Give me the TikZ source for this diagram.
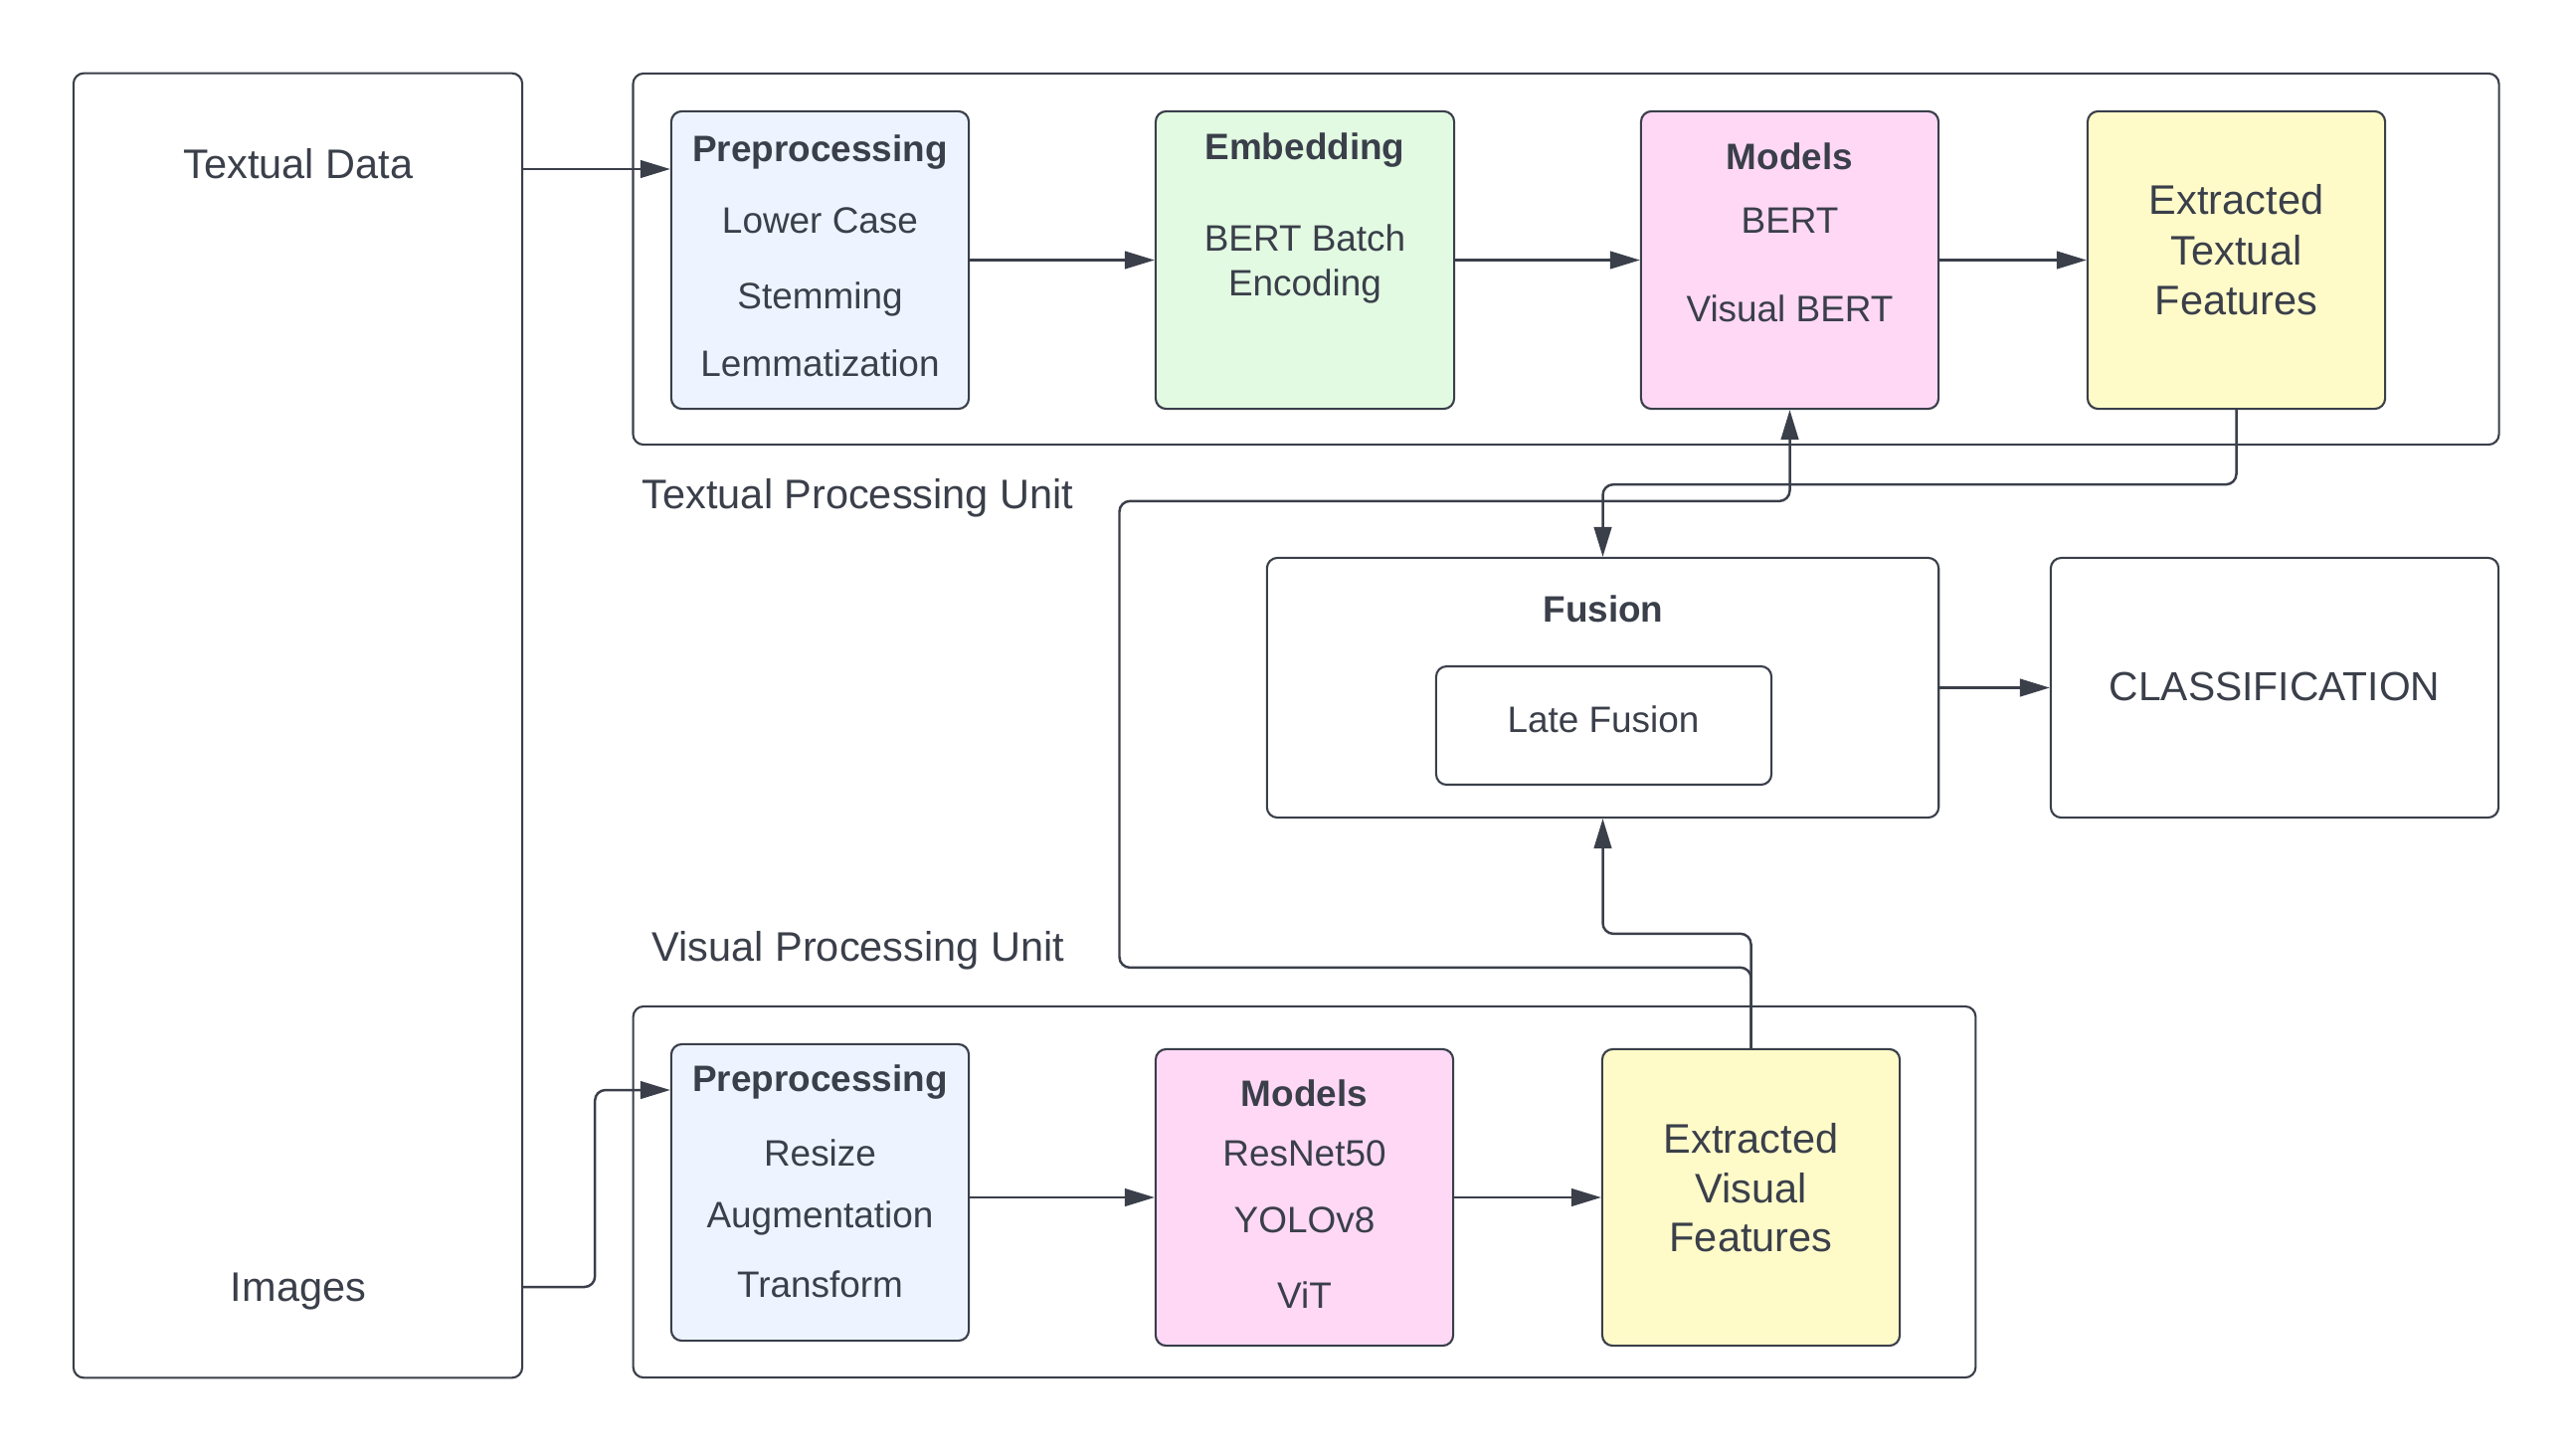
\documentclass[tikz,border=0pt]{standalone}
\usepackage{fontspec}
\setmainfont{Liberation Sans}
\usetikzlibrary{arrows.meta,calc}
\definecolor{ink}{HTML}{3A3F4A}
\definecolor{prepfill}{HTML}{EDF4FF}
\definecolor{embfill}{HTML}{E2FAE2}
\definecolor{modfill}{HTML}{FFD8F6}
\definecolor{featfill}{HTML}{FFFBC9}
\tikzset{box/.style = {draw=ink, line width=0.6pt, rounded corners=3pt, inner sep=0pt}}
\tikzset{stage/.style = {box, minimum width=2.99cm, minimum height=2.99cm}}
\tikzset{arr/.style = {draw=ink, line width=0.7pt, rounded corners=3pt, -{Triangle[length=8.5pt,width=5pt]}}}
\tikzset{txt/.style = {text=ink, inner sep=0pt, text height=7.5pt, text depth=0pt, font=\fontsize{10.5}{12.6}\selectfont}}
\tikzset{hd/.style = {txt, font=\bfseries\fontsize{10.5}{12.6}\selectfont}}
\tikzset{big/.style = {txt, text height=8.3pt, font=\fontsize{11.8}{14}\selectfont}}

\begin{document}
\begin{tikzpicture}[x=0.01cm, y=-0.01cm]
    \useasboundingbox (0,0) rectangle (2588,1463);
    % inputs
    \node (input) [box, minimum width=4.51cm, minimum height=13.11cm] at (299.5,729.5) {};
    \node (txtdata) [big] at (300,165) {Textual Data};
    \node (images) [big] at (300,1294) {Images};

    % textual processing unit
    \node (tunit) [box, minimum width=18.75cm, minimum height=3.73cm] at (1574.5,260.5) {};
    \node (tunitlbl) [big, anchor = west] at (645,497) {Textual Processing Unit};
    \node (prepT) [stage, fill=prepfill] at (824.5,261.5) {};
    \node (embT) [stage, fill=embfill, minimum width=3cm] at (1312,261.5) {};
    \node (modT) [stage, fill=modfill] at (1799.5,261.5) {};
    \node (extT) [stage, fill=featfill] at (2248.5,261.5) {};
    \node (prepTh) [hd] at (824.5,149) {Preprocessing};
    \node (prepT1) [txt] at (824.5,221) {Lower Case};
    \node (prepT2) [txt] at (824.5,297) {Stemming};
    \node (prepT3) [txt] at (824.5,365) {Lemmatization};
    \node (embTh) [hd] at (1312,147) {Embedding};
    \node (embT1) [txt] at (1312,239) {BERT Batch};
    \node (embT2) [txt] at (1312,284) {Encoding};
    \node (modTh) [hd] at (1799.5,157) {Models};
    \node (modT1) [txt] at (1799.5,221) {BERT};
    \node (modT2) [txt] at (1799.5,310) {Visual BERT};
    \node (extT1) [big] at (2248.5,201) {Extracted};
    \node (extT2) [big] at (2248.5,252) {Textual};
    \node (extT3) [big] at (2248.5,302) {Features};

    % fusion and classification
    \node (fusion) [box, minimum width=6.75cm, minimum height=2.61cm] at (1611.5,691.5) {};
    \node (late) [box, minimum width=3.37cm, minimum height=1.19cm] at (1612.5,729.5) {};
    \node (fusionh) [hd] at (1612,612) {Fusion};
    \node (latetxt) [txt] at (1612,723) {Late Fusion};
    \node (cls) [box, minimum width=4.5cm, minimum height=2.61cm] at (2287,691.5) {};
    \node (clstxt) [big, font=\fontsize{11.6}{14}\selectfont] at (2287,690) {CLASSIFICATION};

    % visual processing unit
    \node (vunit) [box, minimum width=13.49cm, minimum height=3.73cm] at (1311.5,1198.5) {};
    \node (vunitlbl) [big, anchor = west] at (655,952) {Visual Processing Unit};
    \node (prepV) [stage, fill=prepfill, minimum height=2.98cm] at (824.5,1199) {};
    \node (modV) [stage, fill=modfill, minimum height=2.98cm] at (1311.5,1204) {};
    \node (extV) [stage, fill=featfill, minimum height=2.98cm] at (1760.5,1204) {};
    \node (prepVh) [hd] at (824.5,1084) {Preprocessing};
    \node (prepV1) [txt] at (824.5,1159) {Resize};
    \node (prepV2) [txt] at (824.5,1221) {Augmentation};
    \node (prepV3) [txt] at (824.5,1291) {Transform};
    \node (modVh) [hd] at (1311.5,1099) {Models};
    \node (modV1) [txt] at (1311.5,1159) {ResNet50};
    \node (modV2) [txt] at (1311.5,1226) {YOLOv8};
    \node (modV3) [txt] at (1311.5,1302) {ViT};
    \node (extV1) [big] at (1760.5,1145) {Extracted};
    \node (extV2) [big] at (1760.5,1195) {Visual};
    \node (extV3) [big] at (1760.5,1244) {Features};

    % connectors
    \coordinate (tin) at (prepT.west |- 0,170);
    \coordinate (vin) at (prepV.west |- 0,1096);
    \draw [arr] (input.east |- tin) -- (tin);
    \draw [arr] (prepT) -- (embT);
    \draw [arr] (embT) -- (modT);
    \draw [arr] (modT) -- (extT);
    \draw [arr] (extT.south) -- ++(0,75) -| (fusion.north);
    \draw [arr] (fusion) -- (cls);
    \draw [arr] (input.east |- images) -- ++(72,0) |- (vin);
    \draw [arr] (prepV.east |- modV) -- (modV);
    \draw [arr] (modV) -- (extV);
    \draw [arr] (extV.north) -- ++(0,-115) -| (fusion.south);
    \draw [arr] (extV.north) -- ++(0,-81) -| ++(-635,-469) -| (modT.south);
\end{tikzpicture}
\end{document}
